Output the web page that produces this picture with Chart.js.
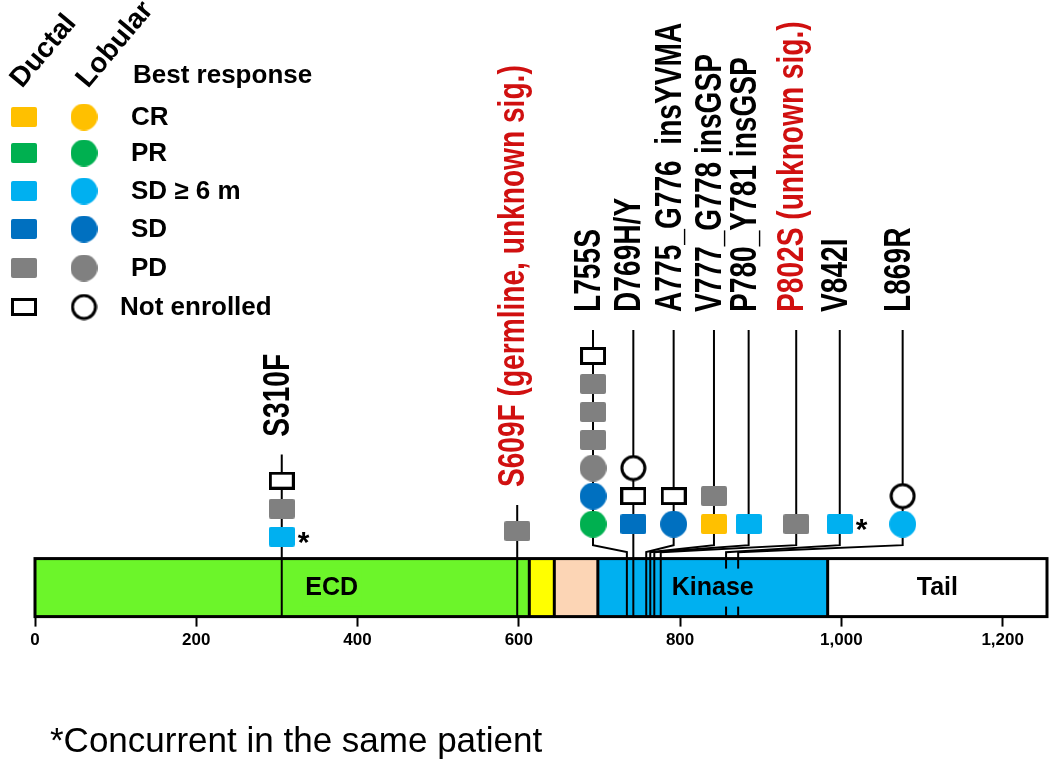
<!DOCTYPE html>
<html>
<head>
<meta charset="utf-8">
<script src="https://cdn.jsdelivr.net/npm/chart.js@4.4.1/dist/chart.umd.min.js"></script>
<style>
  html, body { margin: 0; padding: 0; background: #fff; }
  #wrap { width: 1050px; height: 762px; }
</style>
</head>
<body>
<div id="wrap"><canvas id="lollipop" width="1050" height="762"></canvas></div>
<script>
// ---- values ----
const mutations = ["S310F", "S609F", "L755S", "D769H/Y", "A775_G776  insYVMA", "V777_G778 insGSP",
  "P780_Y781 insGSP", "P802S", "V842I", "L869R"];
const mutationNote = ["", " (germline, unknown sig.)", "", "", "", "", "", " (unknown sig.)", "", ""];
// residue where each stem meets the protein bar (figure scale)
const barPos = [306, 598, 734, 742, 758, 763, 768, 776, 857, 872];
// residue column where each stack of patients is drawn
const stackPos = [306, 598, 692, 742, 792, 842, 885, 944, 998, 1076];
// patients per mutation, bottom to top: D = ductal, L = lobular, * = concurrent in same patient
const patients = [
  ["D SD6 *", "D PD", "D NE"],
  ["D PD"],
  ["L PR", "L SD", "L PD", "D PD", "D PD", "D PD", "D NE"],
  ["D SD", "D NE", "L NE"],
  ["L SD", "D NE"],
  ["D CR", "D PD"],
  ["D SD6"],
  ["D PD"],
  ["D SD6 *"],
  ["L SD6", "L NE"],
];

const responses = ["CR", "PR", "SD6", "SD", "PD", "NE"];
const responseNames = ["CR", "PR", "SD \u2265 6 m", "SD", "PD", "Not enrolled"];

const domains = ["ECD", "", "", "Kinase", "Tail"];
const domainStart = [0, 613, 644, 698, 983];
const domainEnd = [613, 644, 698, 983, 1255];
const domainLabelAt = [368, null, null, null, null];

const xTicks = [0, 200, 400, 600, 800, 1000, 1200];
const proteinLength = 1255;

// ---- layout ----
const stackBase = [2.85, 3.05, 3.3, 3.3, 3.3, 3.3, 3.3, 3.3, 3.3, 3.3];
const labelGroup = [0, 1, 2, 2, 2, 2, 2, 2, 2, 2];
const Y_MAX = 22;
const BAR_TOP = 2.07;
const ELBOW_HI = 2.55;
const ELBOW_LO = 2.3;
const LABEL_GAP = 1.57;
const STEM_GAP = 0.64;

const FONT = "'Liberation Sans', Arial, sans-serif";
const RED = "#d01010";
const responseColors = { CR: "#ffc000", PR: "#00b050", SD6: "#00b0f0", SD: "#0070c0", PD: "#808080", NE: null };
const domainColors = ["#6cf52a", "#ffff00", "#fcd5b5", "#00b0f0", "#ffffff"];

function makeMarker(shape, color) {
  const c = document.createElement("canvas");
  const open = color === null;
  if (shape === "D") {
    c.width = 26;
    c.height = open ? 18 : 20;
  } else {
    c.width = 27;
    c.height = 27;
  }
  const g = c.getContext("2d");
  g.fillStyle = open ? "#fff" : color;
  g.strokeStyle = "#000";
  g.lineWidth = 3;
  g.beginPath();
  if (shape === "D") {
    if (open) {
      g.rect(1.5, 1.5, 23, 15);
      g.fill();
      g.stroke();
    } else {
      g.roundRect(0, 0, 26, 20, 2);
      g.fill();
    }
  } else {
    g.arc(13.5, 13.5, open ? 11.5 : 13.5, 0, Math.PI * 2);
    g.fill();
    if (open) g.stroke();
  }
  return c;
}

const markerImg = { D: {}, L: {} };
responses.forEach((r) => {
  markerImg.D[r] = makeMarker("D", responseColors[r]);
  markerImg.L[r] = makeMarker("L", responseColors[r]);
});

const stackTop = patients.map((p, i) => stackBase[i] + p.length - 1);
const labelLevel = stackTop.map((t, i) =>
  Math.max(...stackTop.filter((_, j) => labelGroup[j] === labelGroup[i])) + LABEL_GAP);

// stems and elbow connectors
const stemSets = mutations.map((m, i) => {
  const pts = [{ x: stackPos[i], y: labelLevel[i] - STEM_GAP }];
  if (stackPos[i] !== barPos[i]) {
    pts.push({ x: stackPos[i], y: ELBOW_HI }, { x: barPos[i], y: ELBOW_LO });
  }
  pts.push({ x: barPos[i], y: 0 });
  return {
    label: m,
    data: pts,
    showLine: true,
    borderColor: "#000",
    borderWidth: 2,
    pointRadius: 0,
    tension: 0,
    order: 2,
    clip: false,
  };
});

// patient markers, one dataset per best response
const concurrent = [];
const markerSets = responses.map((r, ri) => {
  const pts = [];
  const styles = [];
  patients.forEach((list, mi) => {
    list.forEach((p, k) => {
      const parts = p.split(" ");
      if (parts[1] !== r) return;
      pts.push({ x: stackPos[mi], y: stackBase[mi] + k });
      styles.push(markerImg[parts[0]][r]);
      if (parts[2] === "*") concurrent.push({ x: stackPos[mi], y: stackBase[mi] + k });
    });
  });
  return {
    label: responseNames[ri],
    data: pts,
    pointStyle: styles,
    pointRadius: 13,
    order: 1,
    clip: false,
  };
});

const proteinBar = {
  id: "proteinBar",
  beforeDatasetsDraw(chart) {
    const { ctx, scales } = chart;
    const yTop = scales.y.getPixelForValue(BAR_TOP);
    const yBot = scales.y.getPixelForValue(0);
    ctx.save();
    domains.forEach((d, i) => {
      const x0 = scales.x.getPixelForValue(domainStart[i]);
      const x1 = scales.x.getPixelForValue(domainEnd[i]);
      ctx.fillStyle = domainColors[i];
      ctx.fillRect(x0, yTop, x1 - x0, yBot - yTop);
    });
    ctx.strokeStyle = "#000";
    ctx.lineWidth = 3;
    domainStart.slice(1).forEach((v) => {
      const x = scales.x.getPixelForValue(v);
      ctx.beginPath();
      ctx.moveTo(x, yTop);
      ctx.lineTo(x, yBot);
      ctx.stroke();
    });
    const xa = scales.x.getPixelForValue(0);
    const xb = scales.x.getPixelForValue(proteinLength);
    ctx.strokeRect(xa, yTop, xb - xa, yBot - yTop);
    ctx.restore();
  },
};

const overlay = {
  id: "overlay",
  afterDatasetsDraw(chart) {
    const { ctx, scales } = chart;
    const x = scales.x;
    const y = scales.y;
    ctx.save();

    // domain names
    const yMid = y.getPixelForValue(BAR_TOP / 2);
    ctx.font = "bold 25px " + FONT;
    ctx.textAlign = "center";
    ctx.textBaseline = "middle";
    domains.forEach((d, i) => {
      if (!d) return;
      const at = domainLabelAt[i] !== null ? domainLabelAt[i] : (domainStart[i] + domainEnd[i]) / 2;
      const px = x.getPixelForValue(at);
      const w = ctx.measureText(d).width;
      ctx.fillStyle = domainColors[i];
      ctx.fillRect(px - w / 2 - 3, yMid - 19, w + 6, 38);
      ctx.fillStyle = "#000";
      ctx.fillText(d, px, yMid + 1);
    });

    // concurrent-patient asterisks
    ctx.font = "bold 30px " + FONT;
    ctx.textAlign = "left";
    ctx.textBaseline = "alphabetic";
    concurrent.forEach((p) => {
      ctx.fillText("*", x.getPixelForValue(p.x) + 16, y.getPixelForValue(p.y) + 15);
    });

    // mutation labels
    ctx.font = "bold 37px " + FONT;
    mutations.forEach((m, i) => {
      ctx.save();
      ctx.translate(x.getPixelForValue(stackPos[i]) + 7, y.getPixelForValue(labelLevel[i]));
      ctx.rotate(-Math.PI / 2);
      ctx.scale(0.76, 1);
      ctx.fillStyle = mutationNote[i] ? RED : "#000";
      ctx.fillText(m + mutationNote[i], 0, 0);
      ctx.restore();
    });
    ctx.restore();
  },
  afterDraw(chart) {
    const { ctx } = chart;
    ctx.save();
    ctx.fillStyle = "#000";

    // legend
    ctx.font = "bold 28px " + FONT;
    [["Ductal", 22, 89], ["Lobular", 88, 89]].forEach(([t, lx, ly]) => {
      ctx.save();
      ctx.translate(lx, ly);
      ctx.rotate(-50 * Math.PI / 180);
      ctx.textBaseline = "alphabetic";
      ctx.fillText(t, 0, 0);
      ctx.restore();
    });
    ctx.font = "bold 26px " + FONT;
    ctx.textBaseline = "middle";
    ctx.textAlign = "left";
    ctx.fillText("Best response", 133, 76);
    const rowY = [117, 153, 191, 229, 268, 307];
    responses.forEach((r, i) => {
      const sq = markerImg.D[r];
      const ci = markerImg.L[r];
      ctx.drawImage(sq, 24 - sq.width / 2, rowY[i] - sq.height / 2);
      ctx.drawImage(ci, 84 - ci.width / 2, rowY[i] - ci.height / 2);
      ctx.fillText(responseNames[i], r === "NE" ? 120 : 131, rowY[i] + 1);
    });

    // footnote
    ctx.font = "35px " + FONT;
    ctx.textBaseline = "alphabetic";
    ctx.fillText("*Concurrent in the same patient", 50, 752);
    ctx.restore();
  },
};

new Chart(document.getElementById("lollipop").getContext("2d"), {
  type: "scatter",
  data: { datasets: [...stemSets, ...markerSets] },
  options: {
    responsive: false,
    animation: false,
    events: [],
    layout: { autoPadding: false, padding: { left: 35, right: 3, top: 0, bottom: 107 } },
    plugins: { legend: { display: false }, tooltip: { enabled: false } },
    scales: {
      x: {
        type: "linear",
        min: 0,
        max: proteinLength,
        afterBuildTicks: (axis) => {
          axis.ticks = xTicks.map((v) => ({ value: v }));
        },
        border: { display: false },
        grid: {
          drawOnChartArea: false,
          drawTicks: true,
          tickLength: 10,
          tickColor: "#000",
          tickWidth: 2,
        },
        ticks: {
          color: "#000",
          padding: 4,
          maxRotation: 0,
          autoSkip: false,
          font: { family: FONT, size: 17, weight: "bold" },
        },
      },
      y: { display: false, min: 0, max: Y_MAX },
    },
  },
  plugins: [proteinBar, overlay],
});
</script>
</body>
</html>
